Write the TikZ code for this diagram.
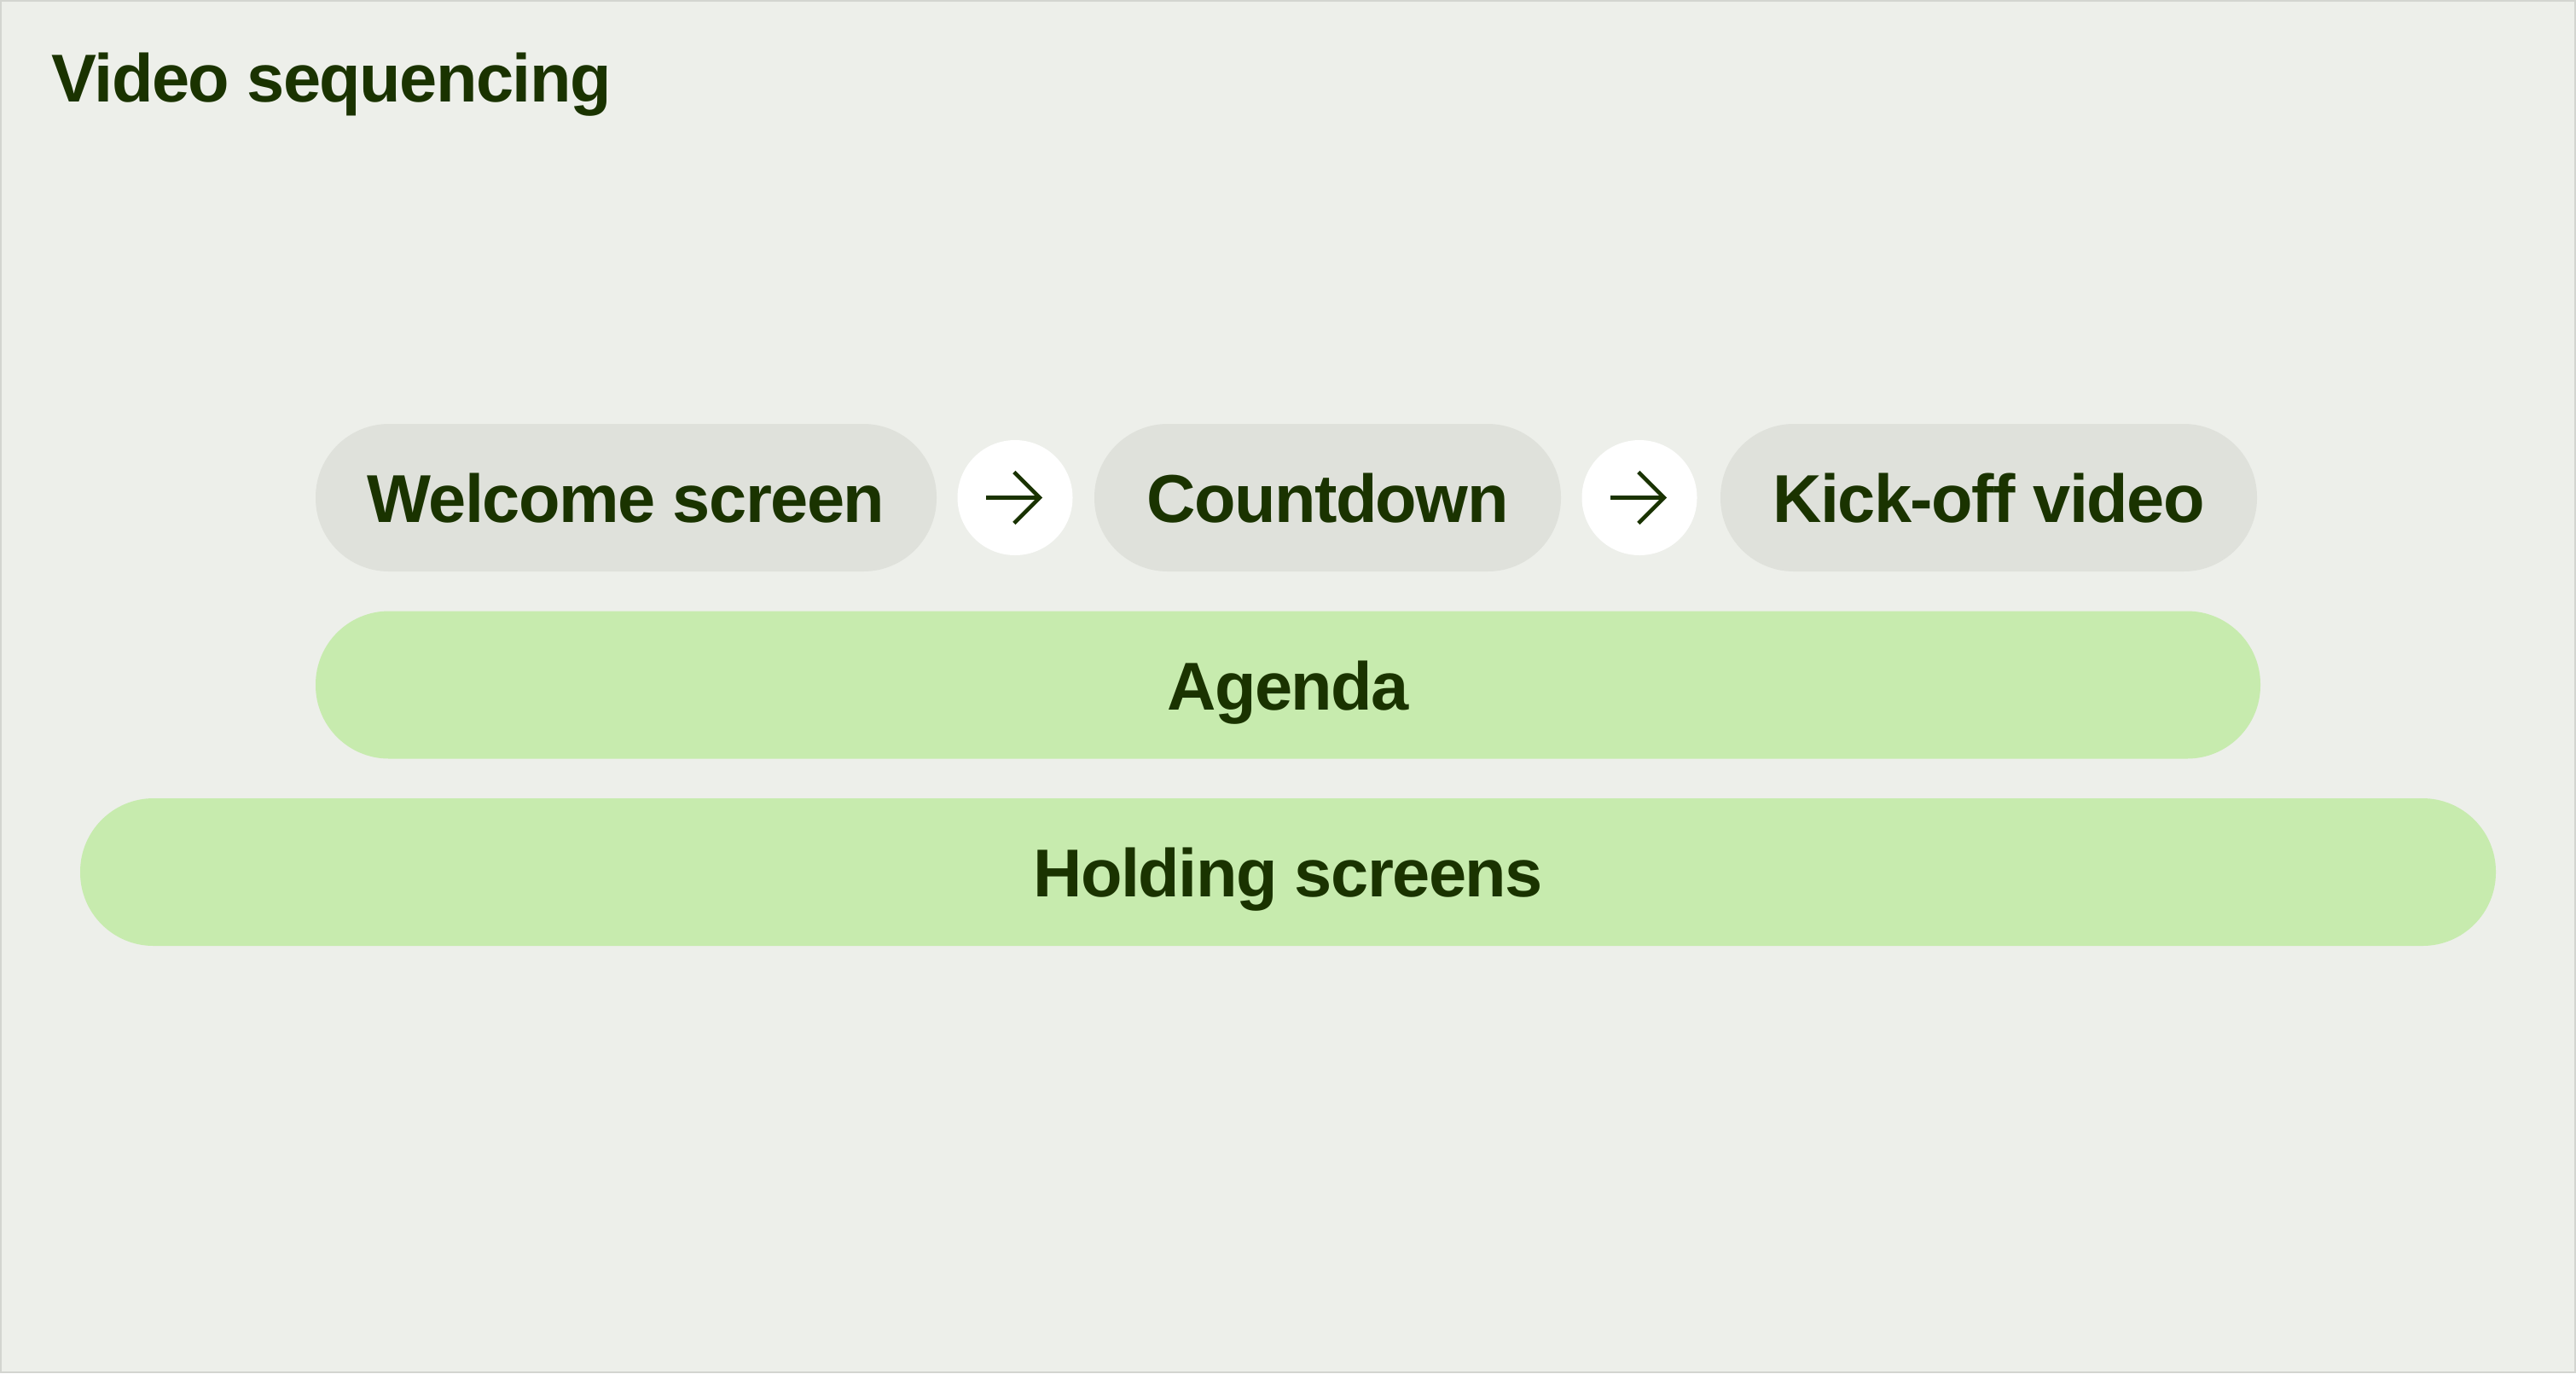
\documentclass[tikz,border=0pt]{standalone}
\usepackage{fontspec}
\setmainfont{Liberation Sans}[LetterSpace=-2]
\usepackage{tikz}
\usetikzlibrary{arrows.meta}
\definecolor{bgpage}{HTML}{EDEFEA}
\definecolor{bgframe}{HTML}{D3D5D0}
\definecolor{pillgray}{HTML}{DFE1DB}
\definecolor{pillgreen}{HTML}{C7EBAE}
\definecolor{inkgreen}{HTML}{1A3300}
\begin{document}
\begin{tikzpicture}[x=1cm, y=-1cm,
  pill/.style={rounded corners=0.86cm, minimum height=1.73cm, inner sep=0pt,
    text height=0.58cm, text depth=0cm, text=inkgreen,
    font=\fontsize{22.6}{28}\selectfont\bfseries},
  graypill/.style={pill, fill=pillgray},
  greenpill/.style={pill, fill=pillgreen},
  stepdot/.style={circle, fill=white, minimum size=1.35cm, inner sep=0pt},
  steparrow/.style={inkgreen, line width=1.3pt, -{Straight Barb[length=0.30cm, width=0.60cm, line width=1.3pt]}}]
\useasboundingbox (0,0) rectangle (30.2,16.1);
\fill[bgpage] (0,0) rectangle (30.2,16.1);
\draw[bgframe, line width=0.02cm] (0.01,0.01) rectangle (30.19,16.09);

\node[anchor=base west, inner sep=0pt, text=inkgreen, font=\fontsize{22.6}{28}\selectfont\bfseries] (title) at (0.60,1.19) {Video sequencing};

% row of steps
\node[graypill, minimum width=7.28cm] (welcome) at (7.34,5.835) {Welcome screen};
\node[stepdot] (dot1) at (11.90,5.835) {};
\node[graypill, minimum width=5.47cm] (countdown) at (15.565,5.835) {Countdown};
\node[stepdot] (dot2) at (19.22,5.835) {};
\node[graypill, minimum width=6.29cm] (kickoff) at (23.315,5.835) {Kick-off video};
\draw[steparrow] ([xshift=-0.34cm]dot1.center) -- ([xshift=0.32cm]dot1.center);
\draw[steparrow] ([xshift=-0.34cm]dot2.center) -- ([xshift=0.32cm]dot2.center);

% layers below
\node[greenpill, minimum width=22.80cm] (agenda) at (15.10,8.03) {Agenda};
\node[greenpill, minimum width=28.32cm] (holding) at (15.10,10.225) {Holding screens};
\end{tikzpicture}
\end{document}
